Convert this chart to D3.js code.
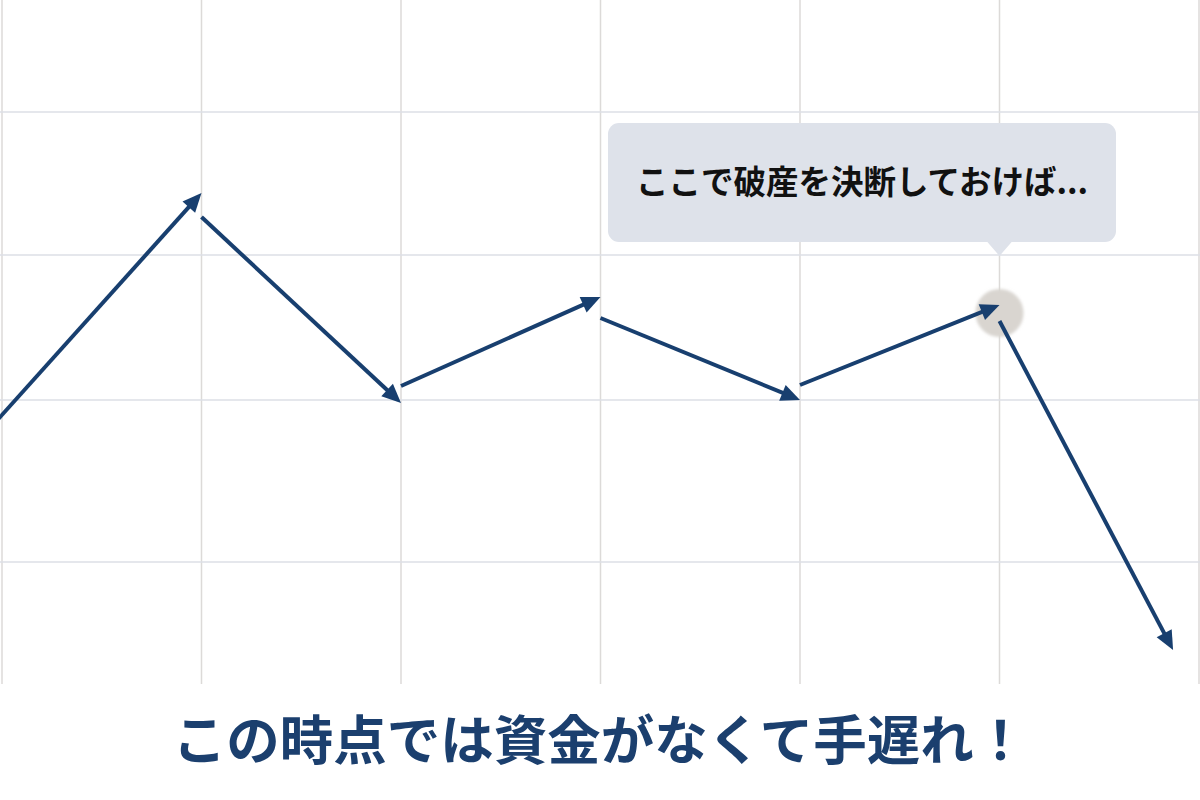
<!DOCTYPE html>
<html>
<head>
<meta charset="utf-8">
<script src="https://cdn.jsdelivr.net/npm/d3@7"></script>
<style>
  body { margin: 0; background: #fff; }
  svg { display: block; }
</style>
</head>
<body>
<svg></svg>
<script>
var w = 1200;
var h = 800;

// grid positions (period index / level)
var periods = [0, 1, 2, 3, 4, 5, 6];
var levels = [588, 445, 300, 138];

// each arrow: start and end (period, level)
var startX = [-0.05, 1, 2, 3, 4, 5];
var startY = [274, 483, 314, 382, 315, 379];
var endX = [1, 2, 3, 4, 5, 5.87];
var endY = [507, 297, 403, 300, 395, 50];

var calloutText = "ここで破産を決断しておけば...";
var calloutAt = 5; // period where decision should have been made
var titleText = "この時点では資金がなくて手遅れ！";

var navy = "#183f6f";

var svg = d3.select("svg").attr("width", w).attr("height", h);

var x = d3.scaleLinear().domain([0, 6]).range([2, 1199]);
var y = d3.scaleLinear().domain([0, 700]).range([700, 0]);

// vertical grid
svg
  .selectAll("line.vgrid")
  .data(periods)
  .enter()
  .append("line")
  .attr("class", "vgrid")
  .attr("x1", (d) => x(d))
  .attr("x2", (d) => x(d))
  .attr("y1", 0)
  .attr("y2", 684)
  .style("stroke", "#dcdad8")
  .style("stroke-width", 1.5);

// horizontal grid
svg
  .selectAll("line.hgrid")
  .data(levels)
  .enter()
  .append("line")
  .attr("class", "hgrid")
  .attr("x1", 0)
  .attr("x2", w)
  .attr("y1", (d) => y(d))
  .attr("y2", (d) => y(d))
  .style("stroke", "#dcdfe6")
  .style("stroke-width", 1.5);

// highlight
var defs = svg.append("defs");
defs
  .append("filter")
  .attr("id", "soft")
  .append("feGaussianBlur")
  .attr("stdDeviation", 1.5);

var lastStart = startY[calloutAt];
svg
  .append("circle")
  .attr("cx", x(calloutAt))
  .attr("cy", (y(endY[calloutAt - 1]) + y(lastStart)) / 2)
  .attr("r", 24)
  .style("fill", "#d9d5d0")
  .attr("filter", "url(#soft)");

// arrows
var segs = startX.map((d, i) => ({
  x1: x(d),
  y1: y(startY[i]),
  x2: x(endX[i]),
  y2: y(endY[i]),
}));

var headLen = 19;
var headHalf = 8.5;

svg
  .selectAll("line.arrow")
  .data(segs)
  .enter()
  .append("line")
  .attr("class", "arrow")
  .attr("x1", (d) => d.x1)
  .attr("y1", (d) => d.y1)
  .attr("x2", (d) => {
    var a = Math.atan2(d.y2 - d.y1, d.x2 - d.x1);
    return d.x2 - Math.cos(a) * 12;
  })
  .attr("y2", (d) => {
    var a = Math.atan2(d.y2 - d.y1, d.x2 - d.x1);
    return d.y2 - Math.sin(a) * 12;
  })
  .style("stroke", navy)
  .style("stroke-width", 4);

svg
  .selectAll("path.head")
  .data(segs)
  .enter()
  .append("path")
  .attr("class", "head")
  .attr("d", (d) => {
    var a = Math.atan2(d.y2 - d.y1, d.x2 - d.x1);
    var bx = d.x2 - Math.cos(a) * headLen;
    var by = d.y2 - Math.sin(a) * headLen;
    var px = -Math.sin(a) * headHalf;
    var py = Math.cos(a) * headHalf;
    return (
      "M" + d.x2 + "," + d.y2 +
      "L" + (bx + px) + "," + (by + py) +
      "L" + (bx - px) + "," + (by - py) + "Z"
    );
  })
  .style("fill", navy);

// callout
var box = { x0: 608, x1: 1116, y0: 123, y1: 242 };
var callout = svg.append("g");
callout
  .append("rect")
  .attr("x", box.x0)
  .attr("y", box.y0)
  .attr("width", box.x1 - box.x0)
  .attr("height", box.y1 - box.y0)
  .attr("rx", 11)
  .style("fill", "#dee2ea");

var tipX = x(calloutAt);
callout
  .append("path")
  .attr(
    "d",
    "M" + (tipX - 13) + "," + (box.y1 - 1) +
    "L" + tipX + "," + (box.y1 + 14) +
    "L" + (tipX + 13) + "," + (box.y1 - 1) + "Z"
  )
  .style("fill", "#dee2ea");

callout
  .append("text")
  .attr("x", (box.x0 + box.x1) / 2)
  .attr("y", (box.y0 + box.y1) / 2)
  .attr("dy", ".35em")
  .attr("text-anchor", "middle")
  .attr("font-family", "Noto Sans CJK JP")
  .attr("font-weight", "bold")
  .attr("font-size", 32.5)
  .style("fill", "#111")
  .text(calloutText);

// title
svg
  .append("text")
  .attr("x", w / 2)
  .attr("y", 760)
  .attr("text-anchor", "middle")
  .attr("font-family", "Noto Sans CJK JP")
  .attr("font-weight", "bold")
  .attr("font-size", 53.5)
  .style("fill", "#1b3f6e")
  .text(titleText);
</script>
</body>
</html>
